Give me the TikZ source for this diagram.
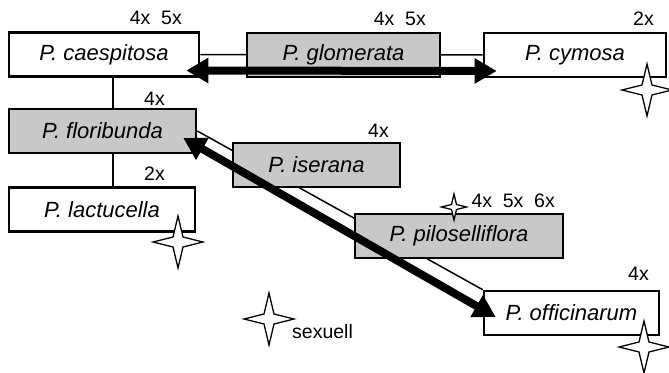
\documentclass[tikz,border=0pt]{standalone}
\usepackage{fontspec}
\setmainfont{Liberation Sans}
\usetikzlibrary{arrows.meta,calc,backgrounds}
\definecolor{boxgray}{RGB}{200,200,200}
\begin{document}
\begin{tikzpicture}[x=1pt, y=-1pt,
  art/.style = {draw, line width=2.6pt, minimum height=44pt, inner sep=0pt, font=\fontsize{22}{26}\selectfont\itshape},
  apo/.style = {art, fill=boxgray},
  sex/.style = {art, fill=white},
  ploidy/.style = {anchor=base east, inner sep=0pt, font=\fontsize{19.5}{23}\selectfont},
  sparkle/.pic = {\draw[line width=1.3pt, fill=white] (25,0) -- (5,-5) -- (0,-26) -- (-5,-5) -- (-25,0) -- (-5,5) -- (0,26) -- (5,5) -- cycle;},
  link/.style = {line width=1.5pt},
  hybrid/.style = {line width=8pt, {Triangle[length=22pt,width=24pt]}-{Triangle[length=22pt,width=24pt]}}]
	\useasboundingbox (0,0) rectangle (669,372);
	\node[sex, minimum width=190pt] (caes) at (104,54.5) {P. caespitosa};
	\node[apo, minimum width=193pt] (glom) at (343.5,55) {P. glomerata};
	\node[sex, minimum width=182pt] (cym) at (575,55) {P. cymosa};
	\node[apo, minimum width=187pt] (flor) at (102.5,131) {P. floribunda};
	\node[sex, minimum width=186pt] (lact) at (102,209.5) {P. lactucella};
	\node[apo, minimum width=167pt] (iser) at (316.5,165) {P. iserana};
	\node[apo, minimum width=208pt] (pilo) at (459,236) {P. piloselliflora};
	\node[sex, minimum width=175pt] (offi) at (571.5,313) {P. officinarum};
	\begin{scope}[on background layer]
		\draw[link] (caes) -- (cym);
		\draw[link] (flor.east) -- (offi.north west);
		\draw[link] ([xshift=9pt]caes.south) -- ([xshift=9pt]caes.south |- flor.north);
		\draw[link] ([xshift=9pt]caes.south |- flor.south) -- ([xshift=9pt]caes.south |- lact.north);
	\end{scope}
	\draw[hybrid] ($(caes.east)+(-14,16)$) -- ($(cym.west)+(14,16)$);
	\draw[hybrid] ($(flor.east)+(-14,7)$) -- ($(offi.west)+(13,4)$);
	\pic (s1) at (647,90) {sparkle};
	\pic (s2) at (178,242) {sparkle};
	\pic (s3) at (269,319) {sparkle};
	\pic (s4) at (644,347) {sparkle};
	\pic[scale=0.5] (s5) at (454,207) {sparkle};
	\node[ploidy] (k1) at (182,24) {4x\hspace{0.55em}5x};
	\node[ploidy] (k2) at (426,25) {4x\hspace{0.55em}5x};
	\node[ploidy] (k3) at (654,25) {2x};
	\node[ploidy] (k4) at (165,105) {4x};
	\node[ploidy] (k5) at (165,180) {2x};
	\node[ploidy] (k6) at (389,137) {4x};
	\node[ploidy] (k7) at (555,207) {4x\hspace{0.55em}5x\hspace{0.55em}6x};
	\node[ploidy] (k8) at (649,280) {4x};
	\node[ploidy, anchor=base west] (k9) at (292,338) {sexuell};
\end{tikzpicture}
\end{document}
